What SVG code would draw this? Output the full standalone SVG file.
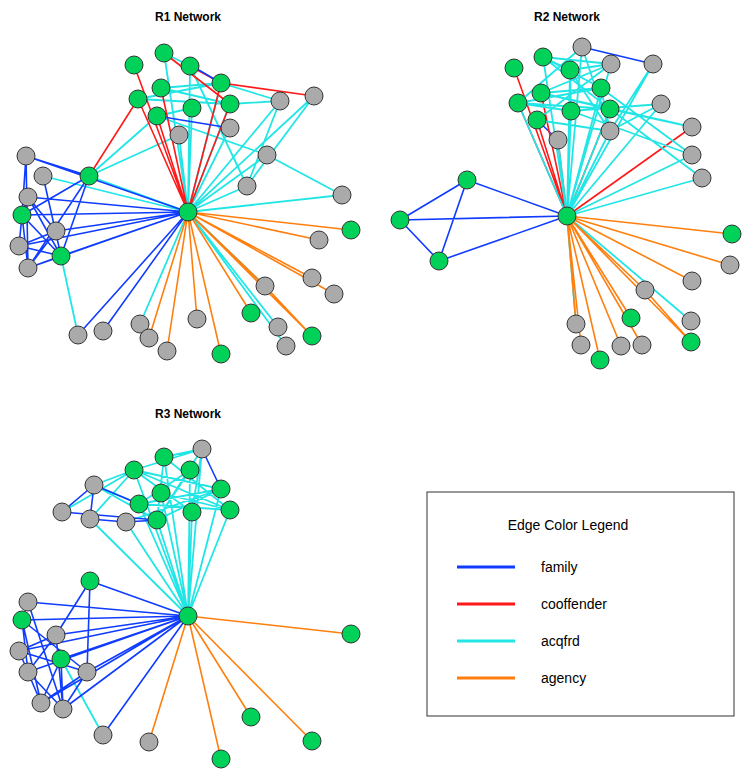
<svg xmlns="http://www.w3.org/2000/svg" width="751" height="778" viewBox="0 0 751 778">
<style>
.t{font-family:"Liberation Sans",Arial,sans-serif;font-weight:bold;font-size:12px;text-anchor:middle}
.l{font-family:"Liberation Sans",Arial,sans-serif;font-size:14px}
.fa{stroke:#0f3cff;stroke-width:1.6;fill:none}
.co{stroke:#ff1a1a;stroke-width:1.6;fill:none}
.ac{stroke:#22e6e6;stroke-width:1.8;fill:none}
.ag{stroke:#ff7f0e;stroke-width:1.6;fill:none}
.g circle{stroke:#333;stroke-width:1}
.gr{fill:#aaaaaa}.gn{fill:#00d159}
</style>
<rect width="751" height="778" fill="#fff"/>
<text class="t" x="188" y="21">R1 Network</text>
<text class="t" x="567" y="21">R2 Network</text>
<text class="t" x="188" y="418">R3 Network</text>
<g id="connectors">
<path class="ac" d="M188 212L164 53M188 212L190 66M188 212L221 83M188 212L230 104M188 212L192 108M188 212L280 101M188 212L314 96M188 212L230 128M188 212L179 135M188 212L267 155M188 212L247 186M188 212L342 195M89 176L179 135M89 176L188 212M43 176L188 212M138 99L221 83M138 99L230 104M161 88L230 104M190 66L247 186M164 53L190 66M157 116L267 155M221 83L280 101M230 104L280 101M280 101L247 186M314 96L247 186M267 155L342 195M89 176L157 116M188 212L140 324M188 212L278 327M188 212L286 346M188 212L265 286M61 256L78 335M192 108L157 116M161 88L221 83"/>
<path class="co" d="M188 212L134 65M188 212L161 88M188 212L157 116M188 212L138 99M188 212L221 83M188 212L230 104M89 176L138 99M164 53L230 104M221 83L314 96M190 66L221 83"/>
<path class="fa" d="M188 212L26 156M188 212L28 197M188 212L22 215M188 212L56 231M188 212L19 246M188 212L61 256M188 212L28 268M188 212L78 335M188 212L103 331M89 176L22 215M89 176L61 256M89 176L26 156M26 156L22 215M26 156L28 268M43 176L61 256M28 197L56 231M28 197L61 256M22 215L19 246M22 215L28 268M22 215L61 256M56 231L19 246M56 231L28 268M19 246L61 256M28 268L61 256M28 197L22 215M157 116L230 128M192 66L221 83M89 176L28 268"/>
<path class="ag" d="M188 212L351 230M188 212L319 240M188 212L312 278M188 212L334 294M188 212L312 336M188 212L265 286M188 212L251 313M188 212L221 354M188 212L197 319M188 212L167 351M188 212L149 338M265 286L312 336"/>
<path class="fa" d="M567 216L467 180M567 216L400 220M567 216L439 261M400 220L467 180M400 220L439 261M467 180L439 261M582 47L653 64M537 120L558 140"/>
<path class="co" d="M567 216L514 68M567 216L541 93M567 216L518 103M567 216L537 120M567 216L558 140M567 216L692 127M567 216L610 109"/>
<path class="ac" d="M567 216L582 47M567 216L543 57M567 216L570 70M567 216L611 64M567 216L601 88M567 216L610 109M567 216L571 111M567 216L558 140M567 216L610 131M567 216L661 104M567 216L692 155M567 216L702 178M567 216L518 103M567 216L653 64M543 57L611 64M543 57L601 88M543 57L610 109M570 70L611 64M570 70L610 131M541 93L610 109M541 93L601 88M541 93L611 64M518 103L601 88M518 103L610 109M518 103L571 111M518 103L582 47M571 111L661 104M571 111L692 155M610 109L692 127M610 109L702 178M601 88L692 155M610 131L661 104M601 88L610 131M582 47L610 131M653 64L610 131M537 120L611 64M537 120L610 131M541 93L692 127M543 57L570 70M570 70L571 111M567 216L691 321M567 216L576 324"/>
<path class="ag" d="M567 216L732 234M567 216L730 265M567 216L692 281M567 216L645 290M567 216L631 318M567 216L691 342M567 216L581 345M567 216L600 360M567 216L621 346M567 216L642 345M567 216L576 324M645 290L691 342"/>
<path class="ac" d="M188 616L202 449M188 616L164 457M188 616L134 470M188 616L190 470M188 616L221 489M188 616L161 493M188 616L139 504M188 616L230 510M188 616L192 512M188 616L157 520M188 616L126 522M188 616L90 519M134 470L202 449M134 470L221 489M134 470L230 510M134 470L192 512M164 457L230 510M164 457L157 520M164 457L202 449M190 470L139 504M190 470L157 520M202 449L157 520M202 449L192 512M221 489L139 504M221 489L157 520M161 493L230 510M139 504L230 510M94 485L134 470M94 485L157 520M94 485L139 504M62 512L134 470M126 522L221 489M90 519L134 470M61 659L103 735"/>
<path class="fa" d="M202 449L221 489M94 485L62 512M94 485L90 519M62 512L157 520M90 519L126 522M126 522L157 520M94 485L139 504M188 616L90 581M188 616L28 602M188 616L22 620M188 616L56 635M188 616L19 651M188 616L61 659M188 616L28 672M188 616L87 672M188 616L41 703M188 616L63 709M188 616L103 735M90 581L87 672M90 581L56 635M28 602L63 709M22 620L28 672M22 620L41 703M22 620L87 672M56 635L63 709M56 635L28 672M19 651L87 672M19 651L41 703M61 659L41 703M61 659L63 709M28 672L63 709M87 672L41 703M87 672L63 709M28 672L56 635M19 651L56 635"/>
<path class="ag" d="M188 616L351 634M188 616L251 717M188 616L312 741M188 616L221 759M188 616L149 742"/>
</g>
<g id="nodes-r1" class="g">
<circle class="gr" cx="280" cy="101" r="9"/><circle class="gr" cx="314" cy="96" r="9"/><circle class="gr" cx="230" cy="128" r="9"/><circle class="gr" cx="179" cy="135" r="9"/><circle class="gr" cx="267" cy="155" r="9"/><circle class="gr" cx="247" cy="186" r="9"/><circle class="gr" cx="342" cy="195" r="9"/>
<circle class="gn" cx="164" cy="53" r="9"/><circle class="gn" cx="134" cy="65" r="9"/><circle class="gn" cx="190" cy="66" r="9"/><circle class="gn" cx="221" cy="83" r="9"/><circle class="gn" cx="161" cy="88" r="9"/><circle class="gn" cx="138" cy="99" r="9"/><circle class="gn" cx="230" cy="104" r="9"/><circle class="gn" cx="192" cy="108" r="9"/><circle class="gn" cx="157" cy="116" r="9"/><circle class="gn" cx="89" cy="176" r="9"/>
<circle class="gr" cx="26" cy="156" r="9"/><circle class="gr" cx="43" cy="176" r="9"/><circle class="gr" cx="28" cy="197" r="9"/><circle class="gn" cx="22" cy="215" r="9"/><circle class="gr" cx="56" cy="231" r="9"/><circle class="gr" cx="19" cy="246" r="9"/><circle class="gr" cx="28" cy="268" r="9"/><circle class="gn" cx="61" cy="256" r="9"/>
<circle class="gr" cx="78" cy="335" r="9"/><circle class="gr" cx="103" cy="331" r="9"/><circle class="gr" cx="140" cy="324" r="9"/><circle class="gr" cx="149" cy="338" r="9"/><circle class="gr" cx="167" cy="351" r="9"/><circle class="gr" cx="197" cy="319" r="9"/><circle class="gn" cx="221" cy="354" r="9"/><circle class="gn" cx="251" cy="313" r="9"/><circle class="gr" cx="265" cy="286" r="9"/><circle class="gr" cx="278" cy="327" r="9"/><circle class="gr" cx="286" cy="346" r="9"/><circle class="gn" cx="312" cy="336" r="9"/><circle class="gr" cx="312" cy="278" r="9"/><circle class="gr" cx="334" cy="294" r="9"/><circle class="gr" cx="319" cy="240" r="9"/><circle class="gn" cx="351" cy="230" r="9"/>
<circle class="gn" cx="188" cy="212" r="9"/>
</g>
<g id="nodes-r2" class="g">
<circle class="gn" cx="467" cy="180" r="9"/><circle class="gn" cx="400" cy="220" r="9"/><circle class="gn" cx="439" cy="261" r="9"/>
<circle class="gr" cx="582" cy="47" r="9"/><circle class="gn" cx="543" cy="57" r="9"/><circle class="gn" cx="514" cy="68" r="9"/><circle class="gr" cx="611" cy="64" r="9"/><circle class="gr" cx="653" cy="64" r="9"/><circle class="gn" cx="570" cy="70" r="9"/><circle class="gn" cx="541" cy="93" r="9"/><circle class="gn" cx="601" cy="88" r="9"/><circle class="gn" cx="518" cy="103" r="9"/><circle class="gn" cx="610" cy="109" r="9"/><circle class="gn" cx="571" cy="111" r="9"/><circle class="gn" cx="537" cy="120" r="9"/><circle class="gr" cx="558" cy="140" r="9"/><circle class="gr" cx="610" cy="131" r="9"/><circle class="gr" cx="661" cy="104" r="9"/><circle class="gr" cx="692" cy="127" r="9"/><circle class="gr" cx="692" cy="155" r="9"/><circle class="gr" cx="702" cy="178" r="9"/>
<circle class="gn" cx="732" cy="234" r="9"/><circle class="gr" cx="730" cy="265" r="9"/><circle class="gr" cx="692" cy="281" r="9"/><circle class="gr" cx="645" cy="290" r="9"/><circle class="gn" cx="631" cy="318" r="9"/><circle class="gr" cx="691" cy="321" r="9"/><circle class="gn" cx="691" cy="342" r="9"/><circle class="gr" cx="576" cy="324" r="9"/><circle class="gr" cx="581" cy="345" r="9"/><circle class="gn" cx="600" cy="360" r="9"/><circle class="gr" cx="621" cy="346" r="9"/><circle class="gr" cx="642" cy="345" r="9"/>
<circle class="gn" cx="567" cy="216" r="9"/>
</g>
<g id="nodes-r3" class="g">
<circle class="gr" cx="202" cy="449" r="9"/><circle class="gn" cx="164" cy="457" r="9"/><circle class="gn" cx="134" cy="470" r="9"/><circle class="gn" cx="190" cy="470" r="9"/><circle class="gn" cx="221" cy="489" r="9"/><circle class="gr" cx="94" cy="485" r="9"/><circle class="gn" cx="161" cy="493" r="9"/><circle class="gn" cx="139" cy="504" r="9"/><circle class="gn" cx="230" cy="510" r="9"/><circle class="gn" cx="192" cy="512" r="9"/><circle class="gn" cx="157" cy="520" r="9"/><circle class="gr" cx="62" cy="512" r="9"/><circle class="gr" cx="90" cy="519" r="9"/><circle class="gr" cx="126" cy="522" r="9"/>
<circle class="gn" cx="90" cy="581" r="9"/><circle class="gr" cx="28" cy="602" r="9"/><circle class="gn" cx="22" cy="620" r="9"/><circle class="gr" cx="56" cy="635" r="9"/><circle class="gr" cx="19" cy="651" r="9"/><circle class="gn" cx="61" cy="659" r="9"/><circle class="gr" cx="28" cy="672" r="9"/><circle class="gr" cx="87" cy="672" r="9"/><circle class="gr" cx="41" cy="703" r="9"/><circle class="gr" cx="63" cy="709" r="9"/><circle class="gr" cx="103" cy="735" r="9"/><circle class="gr" cx="149" cy="742" r="9"/>
<circle class="gn" cx="351" cy="634" r="9"/><circle class="gn" cx="251" cy="717" r="9"/><circle class="gn" cx="312" cy="741" r="9"/><circle class="gn" cx="221" cy="759" r="9"/>
<circle class="gn" cx="188" cy="616" r="9"/>
</g>
<g id="legend">
<rect x="427" y="492" width="307" height="224" fill="#fff" stroke="#333" stroke-width="1"/>
<text class="l" x="568" y="530" text-anchor="middle" font-size="15">Edge Color Legend</text>
<line x1="457" y1="567" x2="515" y2="567" stroke="#0f3cff" stroke-width="3"/>
<line x1="457" y1="604" x2="515" y2="604" stroke="#ff1a1a" stroke-width="3"/>
<line x1="457" y1="641" x2="515" y2="641" stroke="#22e6e6" stroke-width="3"/>
<line x1="457" y1="678" x2="515" y2="678" stroke="#ff7f0e" stroke-width="3"/>
<text class="l" x="541" y="572">family</text>
<text class="l" x="541" y="609">cooffender</text>
<text class="l" x="541" y="646">acqfrd</text>
<text class="l" x="541" y="683">agency</text>
</g>
</svg>
